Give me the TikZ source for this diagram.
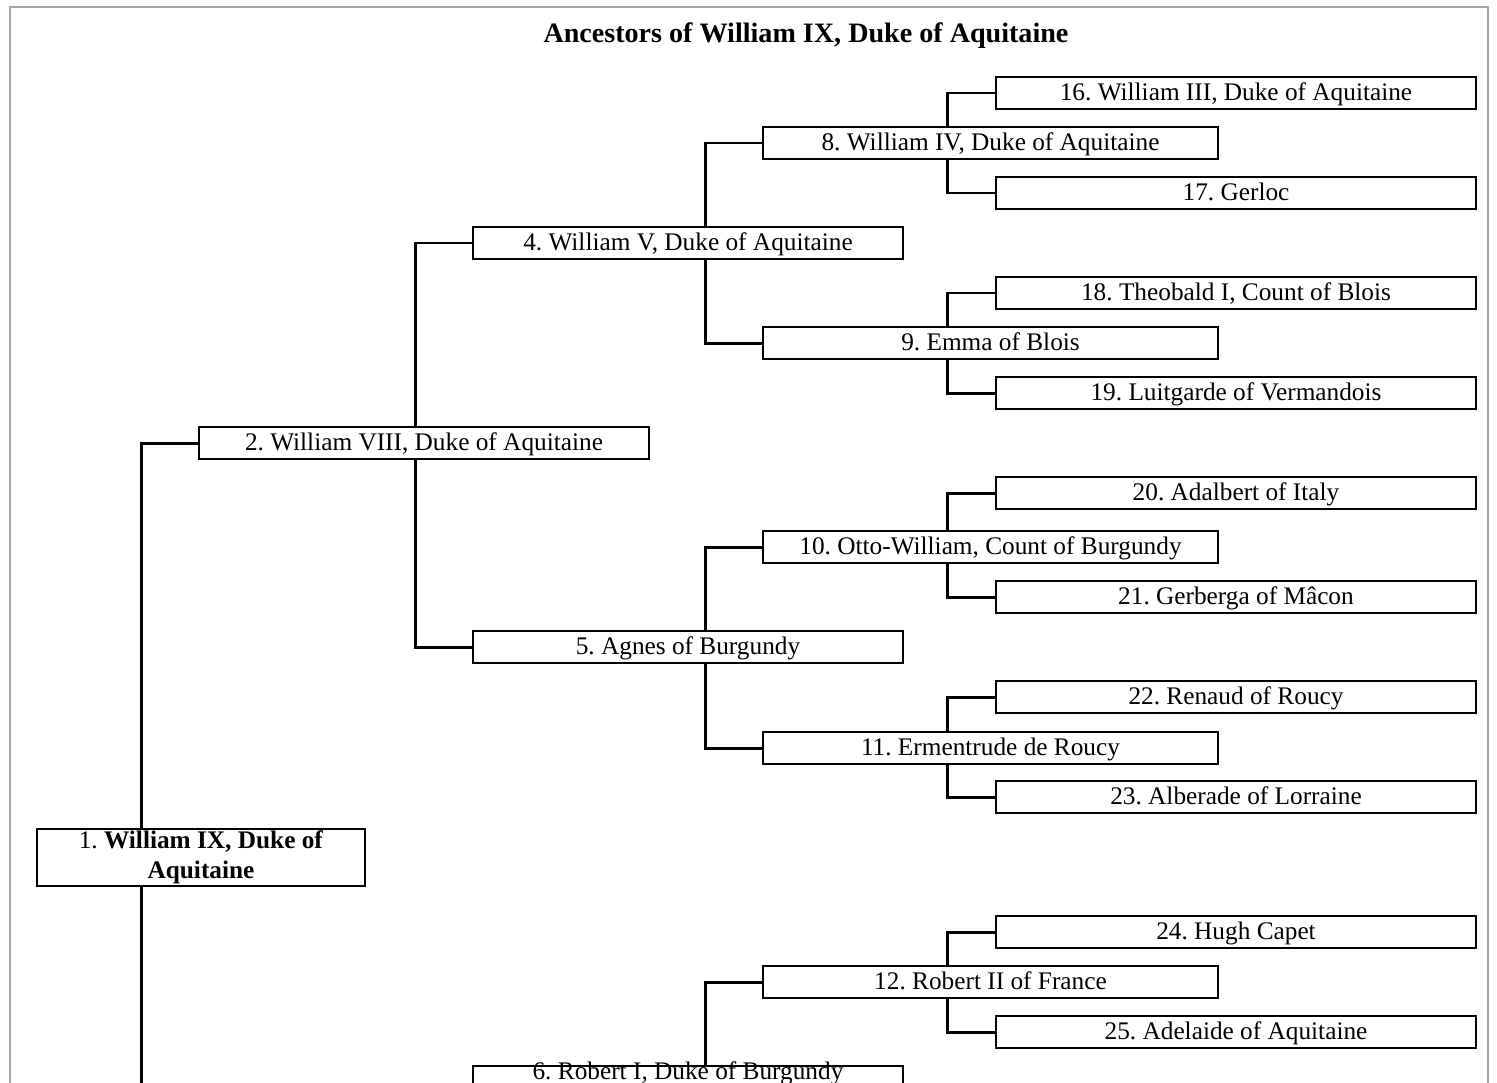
\documentclass[tikz,border=0pt]{standalone}
\usepackage{fontspec}
\setmainfont{Liberation Serif}
\frenchspacing
\usetikzlibrary{backgrounds}
\tikzset{
  person/.style={draw, line width=0.8pt, fill=white, minimum height=0.64cm, inner sep=0pt, align=center, text height=0.37cm, text depth=0.09cm, font=\fontsize{14.4}{17}\selectfont},
  gentwo/.style={person, minimum width=9.0cm},
  genthree/.style={person, minimum width=8.6cm},
  genfour/.style={person, minimum width=9.1cm},
  genfive/.style={person, minimum width=9.6cm},
  link/.style={line width=1.7pt},
  frame/.style={draw=black!35, line width=1.3pt}
}

\begin{document}
\begin{tikzpicture}[x=0.02cm, y=-0.02cm]
  \useasboundingbox (0,0) rectangle (1497,1082);
  \clip (0,0) rectangle (1497,1082);

  \node[font=\fontsize{16}{18}\selectfont\bfseries] (title) at (806,36) {Ancestors of William IX, Duke of Aquitaine};

  % generation 1 and 2
  \node[person, text height=, text depth=, minimum width=6.56cm, minimum height=1.14cm] (n1) at (201,857.5) {1. \textbf{William IX, Duke of}\\\textbf{Aquitaine}};
  \node[gentwo] (n2) at (424,443) {2. William VIII, Duke of Aquitaine};
  \coordinate (n3) at (199,1300);

  % generation 3
  \node[genthree] (n4) at (688,243) {4. William V, Duke of Aquitaine};
  \node[genthree] (n5) at (688,647) {5. Agnes of Burgundy};
  \node[genthree, minimum height=0pt, text height=0.26cm, text depth=2cm, anchor=base] (n6) at (688,1079) {6. Robert I, Duke of Burgundy};

  % generation 4
  \node[genfour] (n8) at (990.5,143) {8. William IV, Duke of Aquitaine};
  \node[genfour] (n9) at (990.5,343) {9. Emma of Blois};
  \node[genfour] (n10) at (990.5,547) {10. Otto-William, Count of Burgundy};
  \node[genfour] (n11) at (990.5,748) {11. Ermentrude de Roucy};
  \node[genfour] (n12) at (990.5,982) {12. Robert II of France};
  \coordinate (n13) at (763,1250);

  % generation 5
  \node[genfive] (n16) at (1236,93) {16. William III, Duke of Aquitaine};
  \node[genfive] (n17) at (1236,193) {17. Gerloc};
  \node[genfive] (n18) at (1236,293) {18. Theobald I, Count of Blois};
  \node[genfive] (n19) at (1236,393) {19. Luitgarde of Vermandois};
  \node[genfive] (n20) at (1236,493) {20. Adalbert of Italy};
  \node[genfive] (n21) at (1236,597) {21. Gerberga of Mâcon};
  \node[genfive] (n22) at (1236,697) {22. Renaud of Roucy};
  \node[genfive] (n23) at (1236,797) {23. Alberade of Lorraine};
  \node[genfive] (n24) at (1236,932) {24. Hugh Capet};
  \node[genfive] (n25) at (1236,1032) {25. Adelaide of Aquitaine};

  \begin{pgfonlayer}{background}
    \clip (0,0) rectangle (1497,1082);
    \draw[frame] (10,7) rectangle (1488,1130);
    \draw[link] (n2.west) -- ++(-57,0) |- (n3);
    \draw[link] (n4.west) -- ++(-57,0) |- (n5.west);
    \draw[link] (n8.west) -- ++(-57,0) |- (n9.west);
    \draw[link] (n10.west) -- ++(-57,0) |- (n11.west);
    \draw[link] (n12.west) -- ++(-57,0) |- (n13);
    \draw[link] (n16.west) -- ++(-48,0) |- (n17.west);
    \draw[link] (n18.west) -- ++(-48,0) |- (n19.west);
    \draw[link] (n20.west) -- ++(-48,0) |- (n21.west);
    \draw[link] (n22.west) -- ++(-48,0) |- (n23.west);
    \draw[link] (n24.west) -- ++(-48,0) |- (n25.west);
  \end{pgfonlayer}
\end{tikzpicture}
\end{document}
